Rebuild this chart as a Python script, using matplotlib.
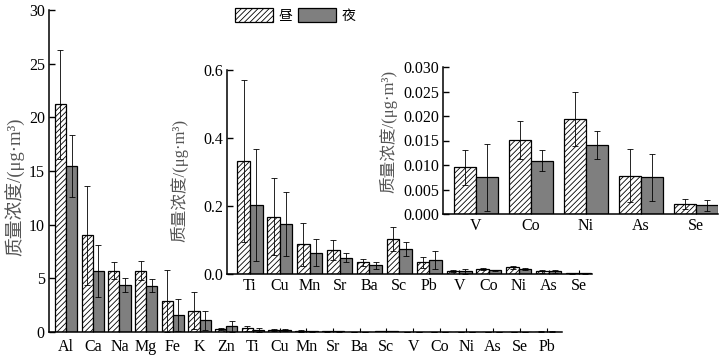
import matplotlib
matplotlib.use('Agg')
import matplotlib.pyplot as plt
import matplotlib.patches as mpatches
import numpy as np

plt.rcParams['font.family'] = ['Liberation Serif', 'Noto Sans CJK SC']
plt.rcParams['font.size'] = 11.5
plt.rcParams['hatch.linewidth'] = 0.6
plt.rcParams['axes.linewidth'] = 1.1

# element order on the main axis
elements = ['Al', 'Ca', 'Na', 'Mg', 'Fe', 'K', 'Zn', 'Ti', 'Cu', 'Mn', 'Sr',
            'Ba', 'Sc', 'V', 'Co', 'Ni', 'As', 'Se', 'Pb']
# day / night mean mass concentration (ug/m3) and std
day = [21.2, 9.0, 5.7, 5.7, 2.9, 2.0, 0.25, 0.332, 0.169, 0.087, 0.071,
       0.034, 0.104, 0.0095, 0.0151, 0.0194, 0.0078, 0.0020, 0.035]
day_err = [5.1, 4.6, 0.8, 0.9, 2.9, 1.7, 0.08, 0.238, 0.112, 0.064, 0.029,
           0.011, 0.035, 0.0035, 0.0038, 0.0056, 0.0054, 0.0010, 0.016]
night = [15.5, 5.7, 4.4, 4.3, 1.6, 1.1, 0.53, 0.203, 0.147, 0.063, 0.048,
         0.026, 0.073, 0.0075, 0.0109, 0.0141, 0.0075, 0.0018, 0.041]
night_err = [2.9, 2.45, 0.65, 0.6, 1.5, 0.9, 0.5, 0.165, 0.095, 0.040, 0.013,
             0.010, 0.020, 0.0068, 0.0022, 0.0028, 0.0048, 0.0011, 0.026]

inset1_elems = ['Ti', 'Cu', 'Mn', 'Sr', 'Ba', 'Sc', 'Pb', 'V', 'Co', 'Ni', 'As', 'Se']
inset2_elems = ['V', 'Co', 'Ni', 'As', 'Se']

day_color = 'white'
night_color = '#7f7f7f'
bw = 0.42
ylab = '质量浓度/(μg·m³)'
ylab_color = '#555555'


def draw(ax, names, xlim, ylim, yticks, fmt, w=bw, xpad=3):
    idx = [elements.index(n) for n in names]
    x = np.arange(len(names))
    d = [day[i] for i in idx]
    de = [day_err[i] for i in idx]
    n = [night[i] for i in idx]
    ne = [night_err[i] for i in idx]
    ekw = dict(elinewidth=0.6, capthick=0.6, ecolor='black')
    ax.bar(x - w / 2, d, w, yerr=de, color=day_color, edgecolor='black',
           hatch='//////', linewidth=0.9, capsize=2, error_kw=ekw)
    ax.bar(x + w / 2, n, w, yerr=ne, color=night_color, edgecolor='black',
           linewidth=0.9, capsize=2, error_kw=ekw)
    ax.set_xticks(x)
    ax.set_xticklabels(names)
    ax.set_xlim(*xlim)
    ax.set_ylim(*ylim)
    ax.set_yticks(yticks)
    ax.set_yticklabels([fmt.format(v) for v in yticks])
    ax.spines['top'].set_visible(False)
    ax.spines['right'].set_visible(False)
    ax.tick_params(axis='y', direction='in', length=4, width=1, pad=3)
    ax.tick_params(axis='x', direction='in', length=3, width=0.8, pad=xpad)
    ax.patch.set_alpha(0)


fig = plt.figure(figsize=(7.27, 3.56), dpi=100)

ax = fig.add_axes([49 / 727, 24 / 356, 513 / 727, 322 / 356])
draw(ax, elements, (-0.64, 18.58), (0, 30), [0, 5, 10, 15, 20, 25, 30], '{:.0f}',
     xpad=5)
ax.set_ylabel(ylab, color=ylab_color, fontsize=13.5)
ax.yaxis.set_label_coords(-0.047, 0.45)

ax1 = fig.add_axes([227 / 727, 82 / 356, 365 / 727, 204 / 356])
draw(ax1, inset1_elems, (-0.77, 11.45), (0, 0.6), [0.0, 0.2, 0.4, 0.6], '{:.1f}')
ax1.set_ylabel(ylab, color=ylab_color, fontsize=12)
ax1.yaxis.set_label_coords(-0.107, 0.46)

ax2 = fig.add_axes([443 / 727, 142 / 356, 275 / 727, 147 / 356])
draw(ax2, inset2_elems, (-0.6, 4.4), (0, 0.030),
     [0.0, 0.005, 0.010, 0.015, 0.020, 0.025, 0.030], '{:.3f}', w=0.4)
ax2.set_ylabel(ylab, color=ylab_color, fontsize=12)
ax2.yaxis.set_label_coords(-0.167, 0.56)

h_day = mpatches.Patch(facecolor=day_color, edgecolor='black', hatch='//////', linewidth=0.9)
h_night = mpatches.Patch(facecolor=night_color, edgecolor='black', linewidth=0.9)
fig.legend([h_day, h_night], ['昼', '夜'], loc='upper left',
           bbox_to_anchor=(235 / 727, 1 - 8 / 356), ncol=2, frameon=False,
           borderpad=0, borderaxespad=0, handlelength=2.73, handleheight=1.22,
           handletextpad=0.4, columnspacing=0.4, fontsize=10)

fig.savefig('out.png', dpi=100)
